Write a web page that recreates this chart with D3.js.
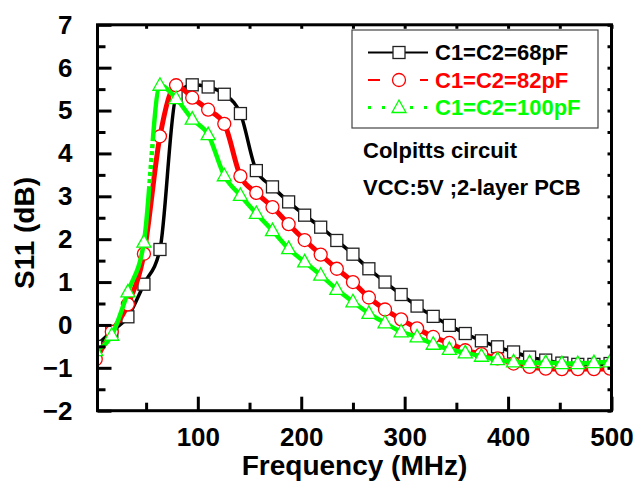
<!DOCTYPE html>
<html>
<head>
<meta charset="utf-8">
<script src="https://cdn.jsdelivr.net/npm/d3@7"></script>
<style>
  body { margin: 0; background: #fff; }
  svg { display: block; font-family: "Liberation Sans", Arial, sans-serif; font-weight: bold; }
</style>
</head>
<body>
<svg id="chart" width="638" height="493"></svg>
<script>
// frequency points (MHz)
const freq = [1.3, 16.8, 32.4, 47.9, 63.4, 79.0, 94.6, 110.0, 125.6, 141.2, 156.6, 172.2, 187.8,
              203.3, 218.8, 234.4, 250.0, 265.4, 281.0, 296.6, 312.0, 327.6, 343.2, 358.6,
              374.2, 389.8, 405.3, 420.8, 436.4, 452.0, 467.4, 483.0, 498.6];

const s11_68 = [-0.5, -0.15, 0.19, 0.95, 1.76, 5.33, 5.6, 5.55, 5.38, 4.93, 3.6, 3.22, 2.87,
                2.56, 2.28, 1.97, 1.65, 1.31, 1.0, 0.71, 0.44, 0.2, -0.01, -0.2,
                -0.37, -0.51, -0.63, -0.75, -0.82, -0.89, -0.92, -0.92, -0.9];
const s11_82 = [-0.8, -0.16, 0.48, 1.66, 4.4, 5.59, 5.3, 5.02, 4.69, 3.47, 3.08, 2.75, 2.35,
                1.98, 1.64, 1.31, 1.0, 0.64, 0.36, 0.13, -0.08, -0.28, -0.42, -0.59,
                -0.68, -0.78, -0.9, -0.98, -1.02, -1.03, -1.03, -1.03, -1.02];
const s11_100 = [-0.6, -0.24, 0.77, 1.93, 5.59, 5.28, 4.8, 4.44, 3.48, 3.02, 2.6, 2.2, 1.78,
                 1.47, 1.16, 0.83, 0.54, 0.27, 0.05, -0.16, -0.28, -0.45, -0.57, -0.65,
                 -0.73, -0.81, -0.86, -0.88, -0.88, -0.9, -0.9, -0.88, -0.86];

const seriesNames = ["C1=C2=68pF", "C1=C2=82pF", "C1=C2=100pF"];
const xMajor = [100, 200, 300, 400, 500];
const xMinor = [50, 150, 250, 350, 450];
const yMajor = [-2, -1, 0, 1, 2, 3, 4, 5, 6, 7];
const yMinor = [-1.5, -0.5, 0.5, 1.5, 2.5, 3.5, 4.5, 5.5, 6.5];
const notes = ["Colpitts circuit", "VCC:5V ;2-layer PCB"];

const svg = d3.select("#chart");
const plot = { left: 97.5, right: 611.5, top: 24.8, bottom: 410.7 };

const x = d3.scaleLinear().domain([3, 500]).range([plot.left, plot.right]);
const y = d3.scaleLinear().domain([-2, 7]).range([plot.bottom, plot.top]);

const series = [
  { name: seriesNames[0], values: s11_68, color: "#000000", width: 3.5, marker: "square", legendDash: null },
  { name: seriesNames[1], values: s11_82, color: "#ff0000", width: 5, marker: "circle", legendDash: "12,14" },
  { name: seriesNames[2], values: s11_100, color: "#00ff00", width: 4.5, marker: "triangle", legendDash: "3,11", jumpDots: true }
];

svg.append("defs").append("clipPath").attr("id", "clip")
  .append("rect")
  .attr("x", plot.left).attr("y", plot.top)
  .attr("width", plot.right - plot.left).attr("height", plot.bottom - plot.top);

const line = d3.line()
  .x(d => x(d[0]))
  .y(d => y(d[1]))
  .curve(d3.curveMonotoneX);

function drawMarker(g, type, color, cx, cy) {
  if (type === "square") {
    g.append("rect").attr("x", cx - 6).attr("y", cy - 6).attr("width", 12).attr("height", 12)
      .attr("fill", "#fff").attr("stroke", "#222").attr("stroke-width", 1.3);
  } else if (type === "circle") {
    g.append("circle").attr("cx", cx).attr("cy", cy).attr("r", 6.5)
      .attr("fill", "#fff").attr("stroke", color).attr("stroke-width", 1.3);
  } else {
    g.append("path").attr("d", `M${cx},${cy - 7.5}L${cx + 7},${cy + 5}L${cx - 7},${cy + 5}Z`)
      .attr("fill", "#fff").attr("stroke", color).attr("stroke-width", 1.3);
  }
}

// long jumps of the dotted series show their dots in the middle
function jumpDash(path, pts) {
  const tmp = svg.append("path").attr("visibility", "hidden");
  const cum = pts.map((p, i) => i === 0 ? 0 : tmp.attr("d", line(pts.slice(0, i + 1))).node().getTotalLength());
  tmp.remove();
  const arr = [];
  for (let i = 0; i < pts.length - 1; i++) {
    const L = cum[i + 1] - cum[i];
    if (L < 80) { arr.push(L, 0); continue; }
    const a = L / 3;
    arr.push(a, 0);
    let rem = L / 3;
    while (rem > 7) { arr.push(4, 3); rem -= 7; }
    arr.push(rem + a, 0);
  }
  path.attr("stroke-dasharray", arr.join(" "));
}

const plotG = svg.append("g").attr("clip-path", "url(#clip)");

series.forEach(s => {
  const pts = freq.map((f, i) => [f, s.values[i]]);
  const g = plotG.append("g");
  const p = g.append("path")
    .attr("d", line(pts))
    .attr("fill", "none")
    .attr("stroke", s.color)
    .attr("stroke-width", s.width)
    .attr("stroke-linejoin", "round");
  if (s.jumpDots) jumpDash(p, pts);
  pts.forEach(d => drawMarker(g, s.marker, s.color, x(d[0]), y(d[1])));
});

// axes
function styleAxis(g) {
  g.select(".domain").remove();
  g.selectAll(".tick line").attr("stroke", "#000").attr("stroke-width", 3);
  g.selectAll("text").attr("fill", "#000").attr("font-size", 26).attr("font-family", null);
}

svg.append("g").attr("transform", `translate(0,${plot.bottom})`)
  .call(d3.axisBottom(x).tickValues(xMajor).tickSize(-14).tickPadding(16.5).tickFormat(d3.format("d")))
  .call(styleAxis);
svg.append("g").attr("transform", `translate(0,${plot.bottom})`)
  .call(d3.axisBottom(x).tickValues(xMinor).tickSize(-8).tickFormat(""))
  .call(styleAxis);
svg.append("g").attr("transform", `translate(${plot.left},0)`)
  .call(d3.axisLeft(y).tickValues(yMajor).tickSize(-14).tickPadding(25).tickFormat(d3.format("d")))
  .call(styleAxis);
svg.append("g").attr("transform", `translate(${plot.left},0)`)
  .call(d3.axisLeft(y).tickValues(yMinor).tickSize(-8).tickFormat(""))
  .call(styleAxis);
svg.append("g").attr("transform", `translate(${plot.right},0)`)
  .call(d3.axisRight(y).tickValues(yMajor.concat(yMinor)).tickSize(-4).tickFormat(""))
  .call(styleAxis);
svg.append("g").attr("transform", `translate(0,${plot.top})`)
  .call(d3.axisTop(x).tickValues(xMajor.concat(xMinor)).tickSize(-4).tickFormat(""))
  .call(styleAxis);

svg.append("rect")
  .attr("x", plot.left).attr("y", plot.top)
  .attr("width", plot.right - plot.left).attr("height", plot.bottom - plot.top)
  .attr("fill", "none").attr("stroke", "#000").attr("stroke-width", 3);

// axis titles
svg.append("text")
  .attr("x", (plot.left + plot.right) / 2).attr("y", 475)
  .attr("text-anchor", "middle").attr("font-size", 28)
  .text("Frequency (MHz)");
svg.append("text")
  .attr("transform", "translate(34,233) rotate(-90)")
  .attr("text-anchor", "middle").attr("font-size", 28)
  .text("S11 (dB)");

// legend
const legend = svg.append("g");
legend.append("rect")
  .attr("x", 352).attr("y", 30).attr("width", 246).attr("height", 98)
  .attr("fill", "#fff").attr("stroke", "#444").attr("stroke-width", 1.2);

series.forEach((s, i) => {
  const cy = 52.5 + i * 27.5;
  const row = legend.append("g");
  row.append("line")
    .attr("x1", 368).attr("x2", 428).attr("y1", cy).attr("y2", cy)
    .attr("stroke", s.color).attr("stroke-width", i === 2 ? 3 : 2)
    .attr("stroke-dasharray", s.legendDash);
  drawMarker(row, s.marker, s.color, 399, cy);
  row.append("text")
    .attr("x", 435).attr("y", cy + 7.8)
    .attr("font-size", 22).attr("fill", s.color)
    .text(s.name);
});

// notes
svg.selectAll(".note")
  .data(notes)
  .join("text")
  .attr("class", "note")
  .attr("x", 363).attr("y", (d, i) => 158 + i * 37)
  .attr("font-size", 22).attr("fill", "#000")
  .text(d => d);
</script>
</body>
</html>
